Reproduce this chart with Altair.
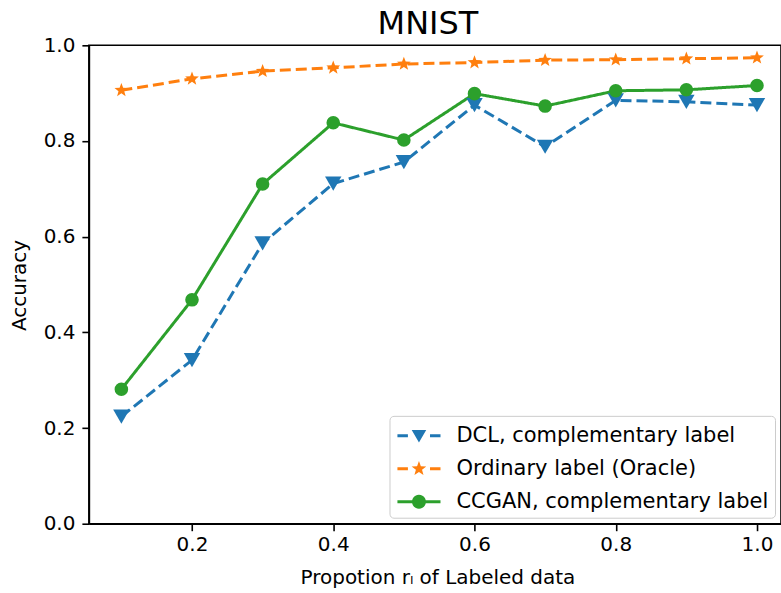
import math
import altair as alt
import pandas as pd

# ---- data ----
x_vals = [0.1, 0.2, 0.3, 0.4, 0.5, 0.6, 0.7, 0.8, 0.9, 1.0]
dcl = [0.224, 0.342, 0.586, 0.711, 0.756, 0.875, 0.788, 0.885, 0.882, 0.875]
oracle = [0.906, 0.930, 0.946, 0.953, 0.961, 0.964, 0.969, 0.970, 0.972, 0.974]
ccgan = [0.281, 0.468, 0.710, 0.838, 0.802, 0.899, 0.873, 0.905, 0.907, 0.916]
series_names = ["DCL, complementary label", "Ordinary label (Oracle)", "CCGAN, complementary label"]
colors = ["#1f77b4", "#ff7f0e", "#2ca02c"]
y_ticks = [0.0, 0.2, 0.4, 0.6, 0.8, 1.0]
x_ticks = [0.2, 0.4, 0.6, 0.8, 1.0]

rows = []
for name, ys in zip(series_names, [dcl, oracle, ccgan]):
    for xv, yv in zip(x_vals, ys):
        rows.append({"x": xv, "y": yv, "series": name})
df = pd.DataFrame(rows)

FONT = "DejaVu Sans"


def star(R, r):
    pts = []
    for i in range(10):
        a = -math.pi / 2 + i * math.pi / 5
        rad = R if i % 2 == 0 else r
        pts.append(f"{rad*math.cos(a):.3f},{rad*math.sin(a):.3f}")
    return "M" + " L".join(pts) + " Z"


def polygon(r, n=24):
    pts = [f"{r*math.cos(2*math.pi*i/n):.3f},{r*math.sin(2*math.pi*i/n):.3f}" for i in range(n)]
    return "M" + " L".join(pts) + " Z"


def bar(x0, x1, h=0.107):
    return f"M{x0},{-h} L{x1},{-h} L{x1},{h} L{x0},{h} Z"


markers = ["triangle-down", star(1.0, 0.42), "circle"]
marker_sizes = [270, 210, 185]
dashes = [[11, 5], [11, 5], [1, 0]]

# legend symbols (line + marker) as filled custom paths
dash = bar(-1.54, -0.79) + " " + bar(0.79, 1.54)
sym_dcl = dash + " M-0.52,-0.42 L0.52,-0.42 L0,0.48 Z"
sym_oracle = dash + " " + star(0.55, 0.23)
sym_ccgan = bar(-1.54, 1.54) + " " + polygon(0.5)

xs = alt.X("x:Q", scale=alt.Scale(domain=[0.054, 1.034], nice=False, zero=False),
           axis=alt.Axis(values=x_ticks, format=".1f", title="Propotion r\u2097 of Labeled data",
                         titleX=349, titleY=54, titleBaseline="middle", titleAlign="center"))
ys_ = alt.Y("y:Q", scale=alt.Scale(domain=[0, 1], nice=False),
            axis=alt.Axis(values=y_ticks, format=".1f", title="Accuracy",
                          titleX=-69, titleY=240, titleBaseline="middle", titleAlign="center", titleAngle=270))

layers = []
for name, col, dsh in zip(series_names, colors, dashes):
    layers.append(
        alt.Chart(df).transform_filter(alt.datum.series == name)
        .mark_line(strokeWidth=3, color=col, strokeDash=dsh)
        .encode(x=xs, y=ys_)
    )
for name, col, mk, sz in zip(series_names, colors, markers, marker_sizes):
    layers.append(
        alt.Chart(df).transform_filter(alt.datum.series == name)
        .mark_point(filled=True, opacity=1, shape=mk, size=sz, color=col)
        .encode(x=xs, y=ys_)
    )

leg = alt.Legend(title=None, orient="bottom-right", offset=6, symbolSize=784,
                 symbolStrokeWidth=0, symbolOpacity=1, symbolOffset=9.5, labelOffset=23.5,
                 labelFontSize=21, labelFont=FONT, labelColor="black", rowPadding=9,
                 padding=6, fillColor="white", strokeColor="#cccccc", cornerRadius=4, labelLimit=400)

# legend-only layer: points are transparent, it only carries the legend
legend_layer = alt.Chart(df).mark_point(filled=True, opacity=0).encode(
    x=xs, y=ys_,
    color=alt.Color("series:N", scale=alt.Scale(domain=series_names, range=colors), legend=leg),
    shape=alt.Shape("series:N", scale=alt.Scale(domain=series_names, range=[sym_dcl, sym_oracle, sym_ccgan]), legend=leg),
)
layers.append(legend_layer)

chart = alt.layer(*layers).properties(
    width=693, height=479,
    title=alt.TitleParams("MNIST", fontSize=32, font=FONT, fontWeight="normal", color="black",
                          dx=-7, offset=-6, frame="group"),
    autosize=alt.AutoSizeParams(type="none"),
    padding={"left": 89, "top": 45, "right": 0, "bottom": 69},
).configure_view(
    stroke="black", strokeWidth=1.6
).configure_axis(
    grid=False, domainColor="black", domainWidth=1.6, tickColor="black", tickWidth=1.6, tickSize=7,
    labelFont=FONT, labelFontSize=20, labelColor="black", titleFont=FONT, titleFontSize=20,
    titleFontWeight="normal", titleColor="black"
).configure_axisX(labelPadding=4).configure_axisY(labelPadding=7)

chart.save("out.html", embed_options={"renderer": "svg", "actions": False})
